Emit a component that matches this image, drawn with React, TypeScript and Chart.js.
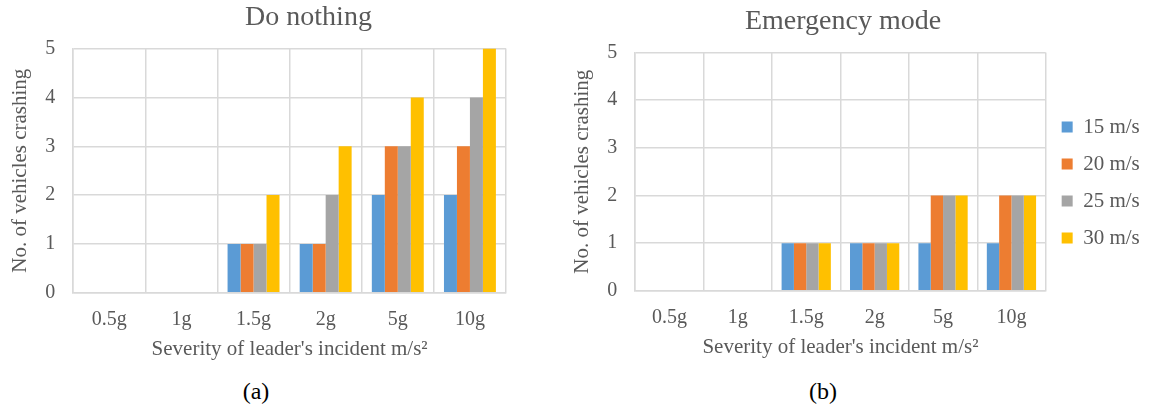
import React, { useEffect, useRef } from "react";
import { Chart, registerables } from "chart.js";

Chart.register(...registerables);

const categories = ["0.5g", "1g", "1.5g", "2g", "5g", "10g"];
const seriesLabels = ["15 m/s", "20 m/s", "25 m/s", "30 m/s"];
const seriesColors = ["#5B9BD5", "#ED7D31", "#A5A5A5", "#FFC000"];

const doNothing15 = [0, 0, 1, 1, 2, 2];
const doNothing20 = [0, 0, 1, 1, 3, 3];
const doNothing25 = [0, 0, 1, 2, 3, 4];
const doNothing30 = [0, 0, 2, 3, 4, 5];

const emergency15 = [0, 0, 1, 1, 1, 1];
const emergency20 = [0, 0, 1, 1, 2, 2];
const emergency25 = [0, 0, 1, 1, 2, 2];
const emergency30 = [0, 0, 1, 1, 2, 2];

const yTicks = [0, 1, 2, 3, 4, 5];

const titleA = "Do nothing";
const titleB = "Emergency mode";
const xTitle = "Severity of leader's incident m/s\u00B2";
const yTitle = "No. of vehicles crashing";

const FONT = "'Liberation Serif', 'Times New Roman', serif";
const TEXT = "#595959";
const GRID = "#d9d9d9";

type Opts = {
  title: string;
  series: number[][];
  legend: boolean;
  padding: { left: number; right: number; top: number; bottom: number };
  dummySide: "left" | "right";
  dummyWidth: number;
};

function makeConfig(o: Opts): any {
  return {
    type: "bar",
    data: {
      labels: categories,
      datasets: o.series.map((vals, i) => ({
        label: seriesLabels[i],
        data: vals,
        backgroundColor: seriesColors[i],
        borderWidth: 0,
        categoryPercentage: 0.72,
        barPercentage: 1,
        yAxisID: "y",
      })),
    },
    options: {
      responsive: false,
      animation: false,
      layout: { padding: o.padding },
      plugins: {
        tooltip: { enabled: false },
        title: {
          display: true,
          text: o.title,
          color: TEXT,
          font: { family: FONT, size: 28, weight: "normal" },
          padding: { top: 0, bottom: 14 },
        },
        legend: o.legend
          ? {
              display: true,
              position: "right",
              align: "center",
              labels: {
                boxWidth: 11,
                boxHeight: 11,
                padding: 16,
                color: TEXT,
                font: { family: FONT, size: 21 },
              },
            }
          : { display: false },
      },
      scales: {
        x: {
          grid: { color: GRID, lineWidth: 1.5, drawTicks: false, offset: true },
          border: { color: GRID, width: 1.5 },
          ticks: { color: TEXT, font: { family: FONT, size: 20 }, padding: 15 },
          title: {
            display: true,
            text: xTitle,
            color: TEXT,
            font: { family: FONT, size: 21 },
            padding: { top: -10, bottom: 0 },
          },
        },
        y: {
          min: 0,
          max: 5,
          grid: { color: GRID, lineWidth: 1.5, drawTicks: false },
          border: { color: GRID, width: 1.5 },
          afterBuildTicks: (s: any) => {
            s.ticks = yTicks.map((v) => ({ value: v }));
          },
          ticks: { color: TEXT, font: { family: FONT, size: 20 }, padding: 18 },
          title: {
            display: true,
            text: yTitle,
            color: TEXT,
            font: { family: FONT, size: 21 },
            padding: { top: 5, bottom: -6 },
          },
        },
        spacer: {
          type: "linear",
          position: o.dummySide,
          weight: 10,
          display: true,
          grid: { display: false, drawTicks: false },
          border: { display: false },
          ticks: { display: false },
          afterFit: (s: any) => {
            s.width = o.dummyWidth;
          },
        },
      },
    },
  };
}

function ChartCanvas(props: { config: any; left: number; width: number; height: number }) {
  const ref = useRef<HTMLCanvasElement | null>(null);
  useEffect(() => {
    if (!ref.current) return;
    const chart = new Chart(ref.current, props.config);
    return () => chart.destroy();
  }, []);
  return (
    <canvas
      ref={ref}
      width={props.width}
      height={props.height}
      style={{
        position: "absolute",
        left: props.left,
        top: 0,
        width: props.width,
        height: props.height,
      }}
    />
  );
}

const configA = makeConfig({
  title: titleA,
  series: [doNothing15, doNothing20, doNothing25, doNothing30],
  legend: false,
  padding: { left: 3, right: 0, top: 1, bottom: 8 },
  dummySide: "right",
  dummyWidth: 108,
});

const configB = makeConfig({
  title: titleB,
  series: [emergency15, emergency20, emergency25, emergency30],
  legend: true,
  padding: { left: 3, right: 4, top: 5, bottom: 10 },
  dummySide: "left",
  dummyWidth: 26,
});

const captionStyle: React.CSSProperties = {
  position: "absolute",
  top: 378,
  width: 60,
  textAlign: "center",
  fontFamily: FONT,
  fontSize: 24,
  lineHeight: "26px",
  color: "#000",
};

export default function App() {
  return (
    <div
      style={{
        position: "fixed",
        left: 0,
        top: 0,
        width: 1151,
        height: 410,
        background: "#fff",
        overflow: "hidden",
      }}
    >
      <ChartCanvas config={configA} left={0} width={614} height={370} />
      <ChartCanvas config={configB} left={536} width={615} height={370} />
      <div style={{ ...captionStyle, left: 256 - 30 }}>(a)</div>
      <div style={{ ...captionStyle, left: 823 - 30 }}>(b)</div>
    </div>
  );
}
